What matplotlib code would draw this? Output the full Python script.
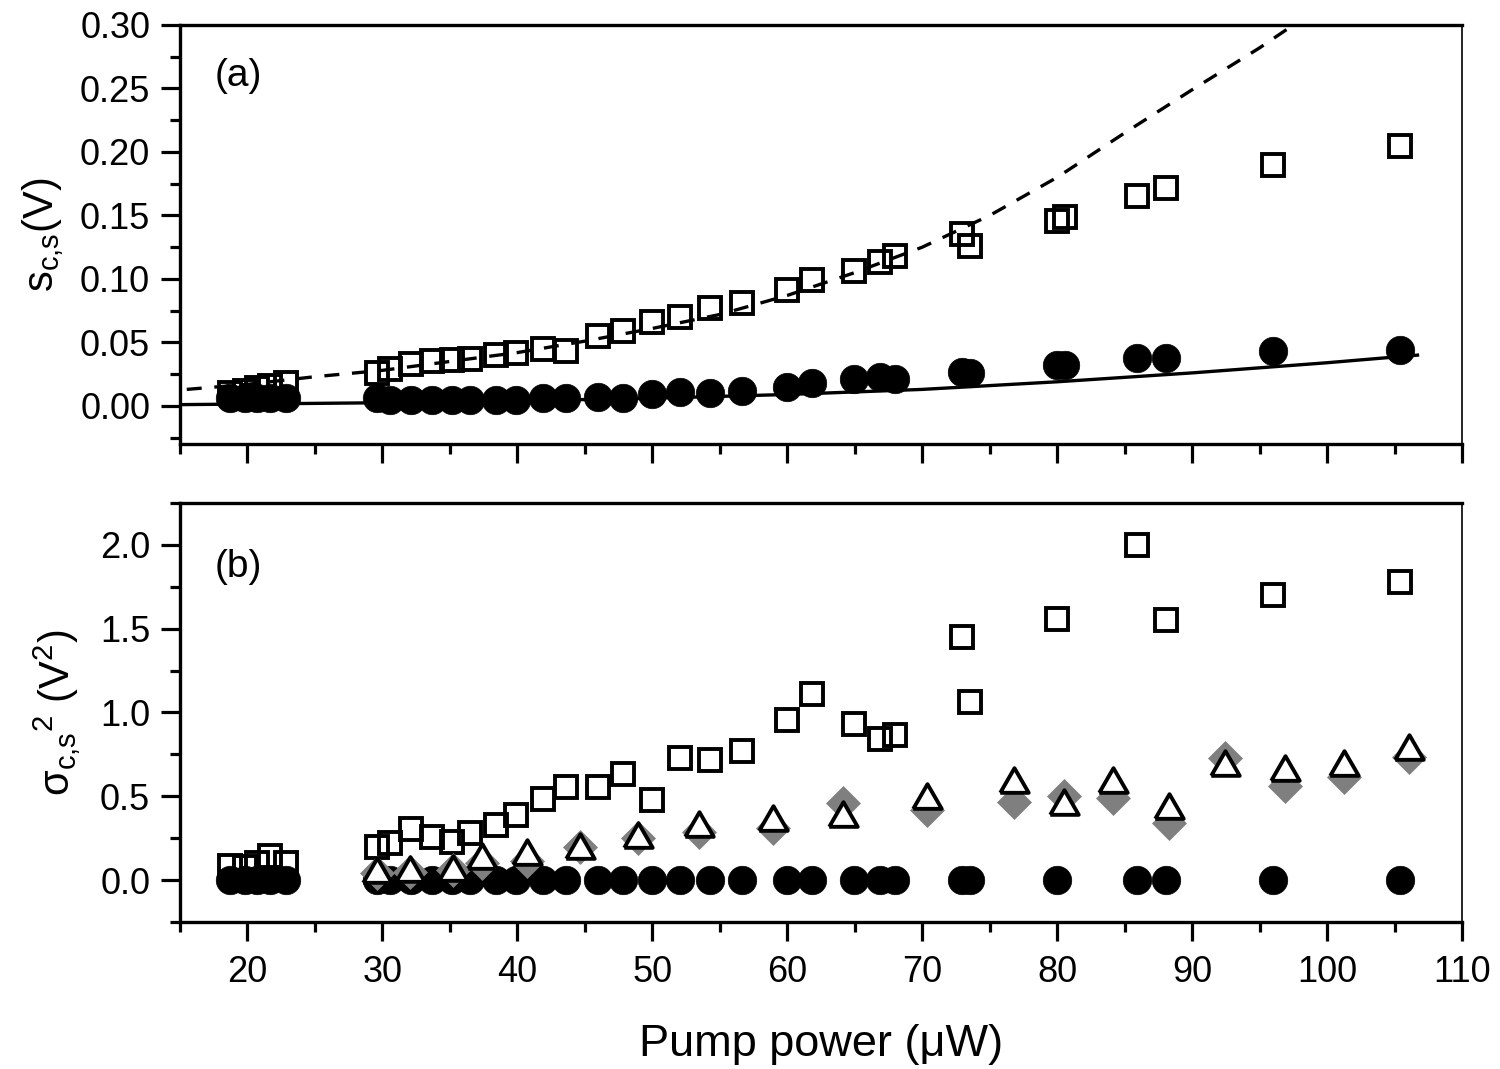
import matplotlib
matplotlib.use("Agg")
import matplotlib.pyplot as plt
from matplotlib.ticker import MultipleLocator, FormatStrFormatter

plt.rcParams['font.family'] = ['Liberation Sans', 'DejaVu Sans']
plt.rcParams['mathtext.fontset'] = 'custom'
plt.rcParams['mathtext.rm'] = 'Liberation Sans'
plt.rcParams['mathtext.it'] = 'Liberation Sans'
plt.rcParams['mathtext.sf'] = 'Liberation Sans'
plt.rcParams['mathtext.default'] = 'regular'

# ---------------- data ----------------
# panel (a)
power_a = [18.74, 19.78, 20.74, 21.70, 22.89, 29.63, 30.59, 32.15, 33.70, 35.19,
           36.52, 38.44, 39.93, 41.93, 43.63, 46.00, 47.85, 50.00, 52.07, 54.30,
           56.67, 60.00, 61.85, 64.96, 66.89, 68.00, 72.96, 73.56, 80.00, 80.59,
           85.93, 88.07, 96.00, 105.41]
s_c = [0.010, 0.012, 0.014, 0.016, 0.018, 0.026, 0.029, 0.033, 0.035, 0.036,
       0.037, 0.040, 0.042, 0.045, 0.043, 0.055, 0.059, 0.066, 0.070, 0.077,
       0.081, 0.091, 0.099, 0.106, 0.113, 0.118, 0.135, 0.126, 0.146, 0.149,
       0.165, 0.172, 0.190, 0.205]
s_s = [0.006, 0.006, 0.006, 0.006, 0.006, 0.006, 0.005, 0.005, 0.005, 0.005,
       0.005, 0.005, 0.005, 0.006, 0.006, 0.007, 0.006, 0.009, 0.011, 0.010,
       0.012, 0.015, 0.018, 0.021, 0.023, 0.021, 0.027, 0.026, 0.032, 0.032,
       0.038, 0.038, 0.043, 0.044]
fit_c_x = [15.5, 20, 25, 30, 35, 40, 45, 50, 55, 60, 65, 70, 75, 80, 85, 90, 95, 100]
fit_c_y = [0.013, 0.017, 0.023, 0.028, 0.035, 0.042, 0.051, 0.061, 0.072, 0.087,
           0.105, 0.125, 0.150, 0.180, 0.215, 0.249, 0.282, 0.318]
fit_s_x = [15, 20, 30, 40, 50, 60, 70, 80, 90, 100, 106.7]
fit_s_y = [0.001, 0.0015, 0.0025, 0.004, 0.006, 0.009, 0.013, 0.019, 0.026, 0.034, 0.040]

# panel (b)
power_b = [18.74, 19.78, 20.74, 21.70, 22.89, 29.63, 30.59, 32.15, 33.70, 35.19,
           36.52, 38.44, 39.93, 41.93, 43.63, 46.00, 47.85, 50.00, 52.07, 54.30,
           56.67, 60.00, 61.85, 64.96, 66.89, 68.00, 72.96, 73.56, 80.00,
           85.93, 88.07, 96.00, 105.41]
var_c = [0.085, 0.080, 0.100, 0.145, 0.105, 0.197, 0.221, 0.304, 0.257, 0.227,
         0.281, 0.328, 0.388, 0.484, 0.555, 0.555, 0.633, 0.475, 0.728, 0.716,
         0.770, 0.955, 1.110, 0.931, 0.842, 0.866, 1.451, 1.063, 1.558,
         2.000, 1.552, 1.701, 1.779]
var_s = [0.0] * 33
power_b2 = [29.63, 32.07, 35.26, 37.41, 40.74, 44.67, 48.96, 53.48, 58.96, 64.15,
            70.37, 76.81, 80.52, 84.15, 88.30, 92.44, 96.89, 101.26, 106.07]
var_tri = [0.060, 0.065, 0.075, 0.145, 0.165, 0.205, 0.269, 0.336, 0.373, 0.396,
           0.504, 0.597, 0.468, 0.595, 0.444, 0.697, 0.667, 0.697, 0.796]
var_dia = [0.045, 0.050, 0.060, 0.100, 0.115, 0.195, 0.251, 0.287, 0.310, 0.460,
           0.418, 0.466, 0.501, 0.490, 0.341, 0.727, 0.561, 0.616, 0.734]

# ---------------- figure ----------------
fig = plt.figure(figsize=(15, 10.69), dpi=100)
L, R = 180 / 1500, 1462 / 1500
axa = fig.add_axes([L, 1 - 444 / 1069, R - L, (444 - 25) / 1069])
axb = fig.add_axes([L, 1 - 922 / 1069, R - L, (922 - 503) / 1069])

tri_verts = [(-1, -0.866), (1, -0.866), (0, 0.866), (-1, -0.866)]

def style(ax):
    for side in ['left', 'bottom', 'top']:
        ax.spines[side].set_linewidth(2.4)
    ax.spines['right'].set_linewidth(1.2)
    ax.set_xlim(15, 110)
    ax.xaxis.set_major_locator(MultipleLocator(10))
    ax.xaxis.set_minor_locator(MultipleLocator(5))
    ax.tick_params(which='major', direction='out', length=13.5, width=2.3,
                   labelsize=26, pad=8, top=False, right=False)
    ax.tick_params(which='minor', direction='out', length=7, width=2.3,
                   top=False, right=False)

# panel a
style(axa)
axa.plot(fit_c_x, fit_c_y, color='black', lw=2.4, dashes=(4.5, 3.8), zorder=2)
axa.plot(fit_s_x, fit_s_y, color='black', lw=2.4, zorder=2)
axa.plot(power_a, s_c, ls='none', marker='s', ms=15.5, mfc='none', mec='black',
         mew=2.8, zorder=3)
axa.plot(power_a, s_s, ls='none', marker='o', ms=20.5, mfc='black', mec='black',
         mew=0.5, zorder=4)
axa.set_ylim(-0.03, 0.30)
axa.yaxis.set_major_locator(MultipleLocator(0.05))
axa.yaxis.set_minor_locator(MultipleLocator(0.025))
axa.yaxis.set_major_formatter(FormatStrFormatter('%.2f'))
axa.tick_params(axis='x', labelbottom=False)
axa.set_ylabel('s$_{c{,}s}$(V)', fontsize=30, labelpad=10)
axa.text(0.027, 0.878, '(a)', transform=axa.transAxes, fontsize=28,
         va='center', ha='left')

# panel b
style(axb)
axb.tick_params(axis='x', which='major', pad=10)
axb.plot(power_b, var_c, ls='none', marker='s', ms=15.5, mfc='none', mec='black',
         mew=2.8, zorder=3)
axb.plot(power_b, var_s, ls='none', marker='o', ms=20.5, mfc='black', mec='black',
         mew=0.5, zorder=4)
axb.plot(power_b2, var_dia, ls='none', marker='D', ms=17.5, mfc='#7f7f7f',
         mec='#7f7f7f', mew=0.5, zorder=5)
axb.plot(power_b2, var_tri, ls='none', marker=tri_verts, ms=20.5, mfc='white',
         mec='black', mew=2.8, zorder=6)
axb.set_ylim(-0.25, 2.25)
axb.yaxis.set_major_locator(MultipleLocator(0.5))
axb.yaxis.set_minor_locator(MultipleLocator(0.25))
axb.yaxis.set_major_formatter(FormatStrFormatter('%.1f'))
axb.set_ylabel('σ$_{c{,}s}$$^{2}$ (V$^{2}$)', fontsize=30, labelpad=12)
axb.text(0.027, 0.847, '(b)', transform=axb.transAxes, fontsize=28,
         va='center', ha='left')
axb.set_xlabel('Pump power (μW)', fontsize=32.5, labelpad=25)

fig.savefig('out.png', dpi=100)
